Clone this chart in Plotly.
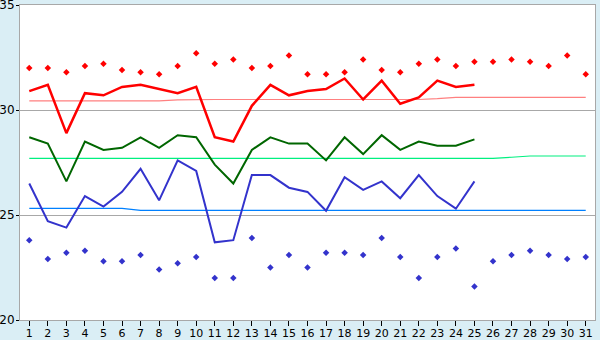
import plotly.graph_objects as go

days = list(range(1, 32))
days_obs = list(range(1, 26))

tmax_pts = [32.0, 32.0, 31.8, 32.1, 32.2, 31.9, 31.8, 31.7, 32.1, 32.7,
            32.2, 32.4, 32.0, 32.1, 32.6, 31.7, 31.7, 31.8, 32.4, 31.9,
            31.8, 32.2, 32.4, 32.1, 32.3, 32.3, 32.4, 32.3, 32.1, 32.6, 31.7]
tmin_pts = [23.8, 22.9, 23.2, 23.3, 22.8, 22.8, 23.1, 22.4, 22.7, 23.0,
            22.0, 22.0, 23.9, 22.5, 23.1, 22.5, 23.2, 23.2, 23.1, 23.9,
            23.0, 22.0, 23.0, 23.4, 21.6, 22.8, 23.1, 23.3, 23.1, 22.9, 23.0]

tmax_obs = [30.9, 31.2, 28.9, 30.8, 30.7, 31.1, 31.2, 31.0, 30.8, 31.1,
            28.7, 28.5, 30.2, 31.2, 30.7, 30.9, 31.0, 31.5, 30.5, 31.4,
            30.3, 30.6, 31.4, 31.1, 31.2]
tavg_obs = [28.7, 28.4, 26.6, 28.5, 28.1, 28.2, 28.7, 28.2, 28.8, 28.7,
            27.4, 26.5, 28.1, 28.7, 28.4, 28.4, 27.6, 28.7, 27.9, 28.8,
            28.1, 28.5, 28.3, 28.3, 28.6]
tmin_obs = [26.5, 24.7, 24.4, 25.9, 25.4, 26.1, 27.2, 25.7, 27.6, 27.1,
            23.7, 23.8, 26.9, 26.9, 26.3, 26.1, 25.2, 26.8, 26.2, 26.6,
            25.8, 26.9, 25.9, 25.3, 26.6]

tmax_norm = [30.43]*8 + [30.48] + [30.5]*13 + [30.54] + [30.6]*8
tavg_norm = [27.7]*26 + [27.75] + [27.81]*4
tmin_norm = [25.32]*6 + [25.22]*25

fig = go.Figure()

fig.add_trace(go.Scatter(x=days, y=tmax_norm, mode="lines",
                         line=dict(color="#ff8080", width=1.2)))
fig.add_trace(go.Scatter(x=days, y=tavg_norm, mode="lines",
                         line=dict(color="#00f080", width=1.2)))
fig.add_trace(go.Scatter(x=days, y=tmin_norm, mode="lines",
                         line=dict(color="#0080ff", width=1.2)))

fig.add_trace(go.Scatter(x=days_obs, y=tmax_obs, mode="lines",
                         line=dict(color="#ff0000", width=2.5)))
fig.add_trace(go.Scatter(x=days_obs, y=tavg_obs, mode="lines",
                         line=dict(color="#006600", width=2)))
fig.add_trace(go.Scatter(x=days_obs, y=tmin_obs, mode="lines",
                         line=dict(color="#3333cc", width=2)))

fig.add_trace(go.Scatter(x=days, y=tmax_pts, mode="markers",
                         marker=dict(symbol="diamond", size=5, color="#ff0000")))
fig.add_trace(go.Scatter(x=days, y=tmin_pts, mode="markers",
                         marker=dict(symbol="diamond", size=5, color="#3333cc")))

fig.update_layout(
    width=600, height=340,
    margin=dict(l=20, r=5, t=5, b=20, autoexpand=False),
    paper_bgcolor="#daeef5",
    plot_bgcolor="#ffffff",
    showlegend=False,
    font=dict(family="DejaVu Sans", size=12, color="#000000"),
)
fig.update_xaxes(range=[0.5, 31.5], tickmode="array", tickvals=days,
                 ticktext=[str(d) for d in days], ticks="outside", ticklen=5,
                 tickcolor="#000000", showgrid=False, showline=True,
                 linecolor="#a8a8a8", linewidth=1, mirror=True, zeroline=False,
                 automargin=False, ticklabeloverflow="allow",
                 ticklabelstandoff=-2, tickfont=dict(size=11))
fig.update_yaxes(range=[20, 35], tickmode="array", tickvals=[20, 25, 30, 35],
                 ticks="outside", ticklen=3, tickcolor="#000000", showgrid=True,
                 gridcolor="#a8a8a8", gridwidth=1, showline=True,
                 linecolor="#a8a8a8", linewidth=1, mirror=True, zeroline=False,
                 automargin=False, ticklabeloverflow="allow",
                 ticklabelstandoff=-1, tickfont=dict(size=12))

fig.write_html("out.html")
